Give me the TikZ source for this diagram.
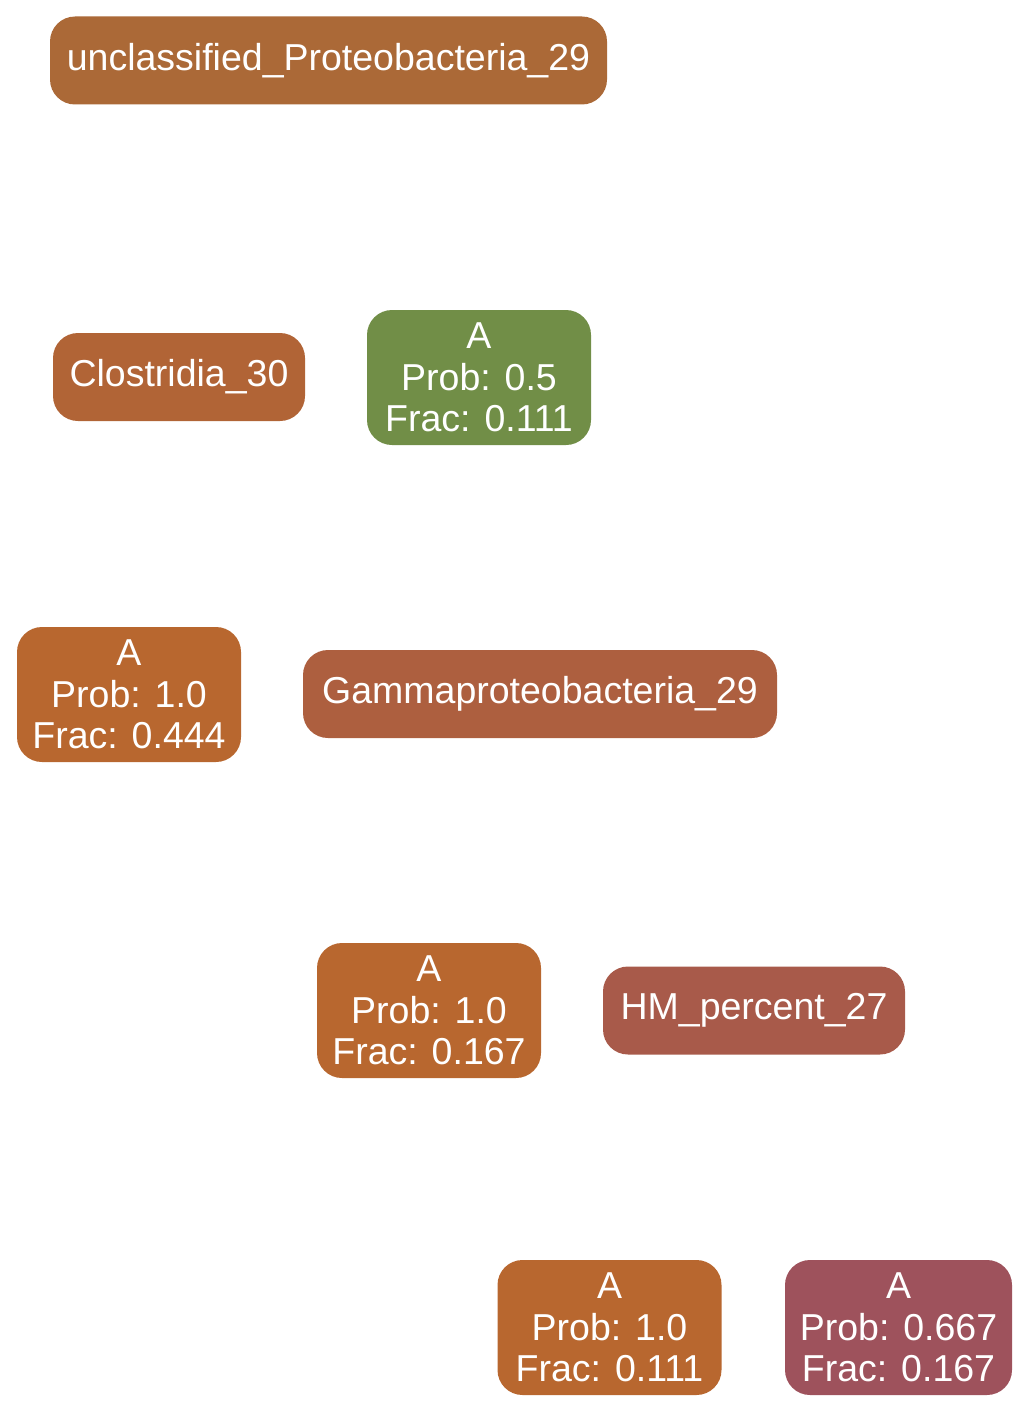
\documentclass[tikz,border=0pt]{standalone}
\usepackage{fontspec}
\setmainfont{Liberation Sans}
\usetikzlibrary{positioning}
\definecolor{cUncl}{RGB}{171,105,55}
\definecolor{cClos}{RGB}{177,100,54}
\definecolor{cGreen}{RGB}{113,142,71}
\definecolor{cOrange}{RGB}{184,103,47}
\definecolor{cGamma}{RGB}{173,95,63}
\definecolor{cHM}{RGB}{168,90,74}
\definecolor{cRose}{RGB}{158,82,92}

\begin{document}
\begin{tikzpicture}[x=0.5pt,y=-0.5pt,
		box/.style={rectangle, rounded corners=12.5pt, inner sep=0pt, text=white, align=center, font=\fontsize{18.75}{20.75}\selectfont},
		lbox/.style={box, minimum height=44pt},
		pbox/.style={box, minimum width=112pt, minimum height=67.5pt}]
		\useasboundingbox (0,0) rectangle (1029,1413);
		% label nodes:
		\node[lbox, fill=cUncl, minimum width=278.5pt] (uncl) at (328.5, 60.5) {unclassified\_Proteobacteria\_29};
		\node[lbox, fill=cClos, minimum width=126pt] (clos) at (179, 377) {Clostridia\_30};
		\node[lbox, fill=cGamma, minimum width=237pt] (gamma) at (540, 694) {Gammaproteobacteria\_29};
		\node[lbox, fill=cHM, minimum width=151pt] (hm) at (754, 1010.5) {HM\_percent\_27};
		% probability nodes:
		\node[pbox, fill=cGreen] (pa) at (479, 377.5) {A\\Prob: 0.5\\Frac: 0.111};
		\node[pbox, fill=cOrange] (pb) at (129, 694.5) {A\\Prob: 1.0\\Frac: 0.444};
		\node[pbox, fill=cOrange] (pc) at (429, 1010.5) {A\\Prob: 1.0\\Frac: 0.167};
		\node[pbox, fill=cOrange] (pd) at (609.5, 1327.5) {A\\Prob: 1.0\\Frac: 0.111};
		\node[pbox, fill=cRose, minimum width=113.5pt] (pe) at (898.5, 1327.5) {A\\Prob: 0.667\\Frac: 0.167};
\end{tikzpicture}
\end{document}
